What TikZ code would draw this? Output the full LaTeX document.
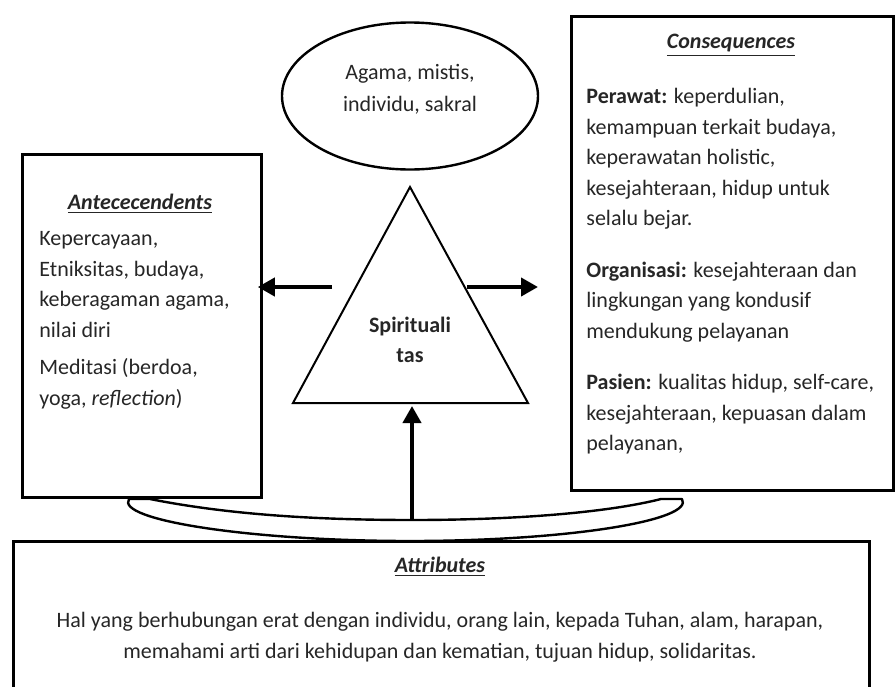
\documentclass[tikz,border=0pt]{standalone}
\usepackage{fontspec}
\setmainfont{Carlito}
\usetikzlibrary{shapes.geometric, arrows.meta, positioning, calc}

\tikzset{
  framebox/.style={draw, line width=1.4pt, inner sep=0pt},
  bodytext/.style={font=\fontsize{11pt}{15.25pt}\selectfont, text=black!85, align=left, inner sep=0pt},
  boldarrow/.style={line width=2pt, -{Triangle[length=8.5pt, width=9pt]}},
}
\newcommand{\headline}[1]{\underline{\textbf{\textit{#1}}}}

\begin{document}
\begin{tikzpicture}[x=0.5pt, y=-0.5pt]
  \useasboundingbox (0,0) rectangle (895,686);
  \clip (0,0) rectangle (895,686);

  % frames
  \node[framebox, anchor=north west, minimum width=119.5pt, minimum height=171.5pt] (ante) at (21,153) {};
  \node[framebox, anchor=north west, minimum width=161pt, minimum height=237pt] (conseq) at (570,15) {};
  \node[framebox, anchor=north west, minimum width=428pt, minimum height=90pt] (attr) at (12,540) {};

  % left box
  \node[bodytext, anchor=north] (antetitle) at (140,194) {\headline{Antececendents}};
  \node[bodytext, anchor=north west] (antetext) at (39,231) {Kepercayaan,\\ Etniksitas, budaya,\\ keberagaman agama,\\ nilai diri\\[3.5pt] Meditasi (berdoa,\\ yoga, \textit{reflection})};

  % right box
  \node[bodytext, anchor=north] (conseqtitle) at (731,34) {\headline{Consequences}};
  \node[bodytext, anchor=north west] (conseqtext) at (586,88) {\textbf{Perawat:} keperdulian,\\ kemampuan terkait budaya,\\ keperawatan holistic,\\ kesejahteraan, hidup untuk\\ selalu bejar.\\[10.5pt]
    \textbf{Organisasi:} kesejahteraan dan\\ lingkungan yang kondusif\\ mendukung pelayanan\\[10.5pt]
    \textbf{Pasien:} kualitas hidup, self-care,\\ kesejahteraan, kepuasan dalam\\ pelayanan,};

  % bottom box
  \node[bodytext, anchor=north] (attrtitle) at (440,557) {\headline{Attributes}};
  \node[bodytext, align=center, anchor=north] (attrtext) at (440,612) {Hal yang berhubungan erat dengan individu, orang lain, kepada Tuhan, alam, harapan,\\ memahami arti dari kehidupan dan kematian, tujuan hidup, solidaritas.};

  % ellipse on top
  \node[draw, ellipse, line width=1.2pt, minimum width=128pt, minimum height=73.5pt] (sacral) at (410,96) {};
  \node[bodytext, align=center, font=\fontsize{11pt}{16pt}\selectfont] (sacraltext) at (410,89) {Agama, mistis,\\ individu, sakral};

  % triangle
  \coordinate (apex) at (410,187);
  \coordinate (bl) at (293,403);
  \coordinate (br) at (528,403);
  \draw[line width=1pt] (apex) -- (bl) -- (br) -- cycle;
  \node[bodytext, align=center, font=\fontsize{11pt}{15pt}\selectfont\bfseries] (spirit) at (410,340) {Spirituali\\ tas};

  % crescent under the boxes
  \coordinate (cup) at (412,520);
  \draw[line width=1.2pt, line join=round] (129,499) -- (150,499)
    .. controls (230,515) and (320,520) .. (cup)
    .. controls (520,520) and (610,512) .. (661,499) -- (682,499)
    .. controls (695,520) and (570,541) .. (410,541)
    .. controls (250,541) and (115,520) .. cycle;

  % arrows
  \coordinate (lstart) at (332,287);
  \coordinate (rstart) at (467,287);
  \draw[boldarrow] (lstart) -- ([xshift=-2.5pt]ante.east |- lstart);
  \draw[boldarrow] (rstart) -- ([xshift=-16pt]conseq.west |- rstart);
  \draw[boldarrow] (cup) -- ([yshift=-1.5pt]cup |- bl);
\end{tikzpicture}
\end{document}
